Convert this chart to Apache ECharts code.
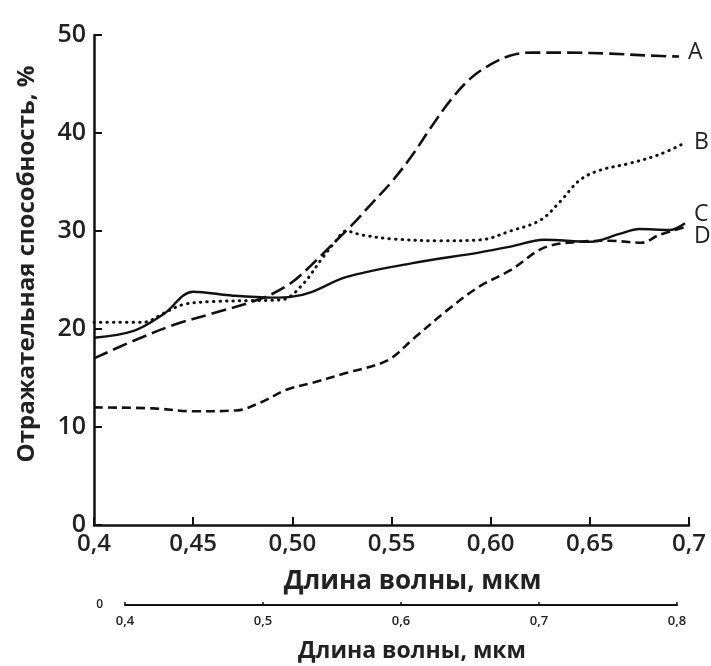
<!DOCTYPE html>
<html><head><meta charset="utf-8">
<script src="https://cdn.jsdelivr.net/npm/echarts@6/dist/echarts.min.js"></script>
<style>html,body{margin:0;padding:0;background:#fff}#c{width:711px;height:666px}</style>
</head><body><div id="c"></div>
<script>
// Wavelength (µm) and reflectance (%) for each curve
const xA = [0.40,0.42,0.44,0.46,0.48,0.49,0.50,0.51,0.52,0.53,0.54,0.55,0.56,0.57,0.58,0.59,0.60,0.61,0.62,0.64,0.66,0.68,0.695];
const yA = [17.0,18.8,20.4,21.6,22.8,23.6,24.8,26.6,28.6,30.6,32.8,35.0,37.6,40.6,43.4,45.6,47.0,47.9,48.2,48.2,48.1,47.9,47.8];
const xB = [0.40,0.425,0.435,0.445,0.46,0.48,0.495,0.505,0.515,0.522,0.527,0.535,0.55,0.575,0.595,0.61,0.625,0.635,0.645,0.655,0.67,0.685,0.698];
const yB = [20.7,20.7,21.6,22.5,22.8,22.9,23.0,24.5,27.2,29.0,30.0,29.6,29.2,29.0,29.1,30.0,31.1,33.0,35.2,36.2,36.9,37.8,39.0];
const xC = [0.40,0.42,0.435,0.45,0.47,0.49,0.50,0.51,0.527,0.56,0.594,0.61,0.627,0.65,0.665,0.675,0.69,0.698];
const yC = [19.1,19.8,21.5,23.8,23.4,23.2,23.3,23.8,25.3,26.7,27.8,28.4,29.1,28.9,29.7,30.2,30.1,30.8];
const xD = [0.40,0.43,0.45,0.472,0.484,0.497,0.51,0.527,0.548,0.561,0.578,0.594,0.61,0.627,0.645,0.66,0.676,0.685,0.698];
const yD = [12.0,11.9,11.6,11.7,12.5,13.8,14.5,15.5,16.8,19.0,21.9,24.3,26.0,28.3,28.9,29.0,28.8,29.6,30.4];
const seriesNames = ['A','B','C','D'];
const xTickLabels = ['0,4','0,45','0,50','0,55','0,60','0,65','0,7'];
const x2TickLabels = ['0,4','0,5','0,6','0,7','0,8'];
const xTitle = 'Длина волны, мкм';
const yTitle = 'Отражательная способность, %';

const pair = (xs, ys) => xs.map((x, i) => [x, ys[i]]);
const FONT = '"Open Sans", "DejaVu Sans", sans-serif';
const INK = '#111';

const chart = echarts.init(document.getElementById('c'), null, {renderer: 'canvas'});

function mkSeries(name, data, lineType, width, cap, labelOffset) {
  return {
    name: name, type: 'line', xAxisIndex: 0, yAxisIndex: 0,
    data: data, smooth: 0.35, showSymbol: false, symbol: 'none',
    lineStyle: {color: INK, width: width, type: lineType, cap: cap},
    endLabel: {show: true, formatter: '{a}', color: '#222', fontFamily: FONT,
      fontSize: 23, distance: 9, offset: labelOffset},
    emphasis: {disabled: true}, animation: false
  };
}

chart.setOption({
  animation: false,
  backgroundColor: '#fff',
  grid: [
    {left: 94, right: 22, top: 35, bottom: 141},
    {left: 125, right: 34, top: 595, bottom: 61}
  ],
  xAxis: [
    {type: 'value', gridIndex: 0, min: 0.4, max: 0.7, interval: 0.05,
     axisLine: {show: true, lineStyle: {color: INK, width: 2.5}},
     axisTick: {show: true, inside: true, length: 8, lineStyle: {color: INK, width: 2}},
     splitLine: {show: false},
     axisLabel: {color: '#222', fontFamily: FONT, fontSize: 24, fontWeight: 600, margin: 7,
       formatter: v => { const k = Math.round((v - 0.4) / 0.05); return Math.abs(v - (0.4 + k*0.05)) < 1e-6 ? xTickLabels[k] : ''; }},
     name: xTitle, nameLocation: 'middle', nameGap: 44,
     nameTextStyle: {color: '#222', fontFamily: FONT, fontSize: 26, fontWeight: 'bold', padding: [0, 0, 0, 42]}
    },
    {type: 'value', gridIndex: 1, min: 0.4, max: 0.8, interval: 0.1,
     axisLine: {show: true, onZero: false, lineStyle: {color: INK, width: 2}},
     axisTick: {show: true, inside: true, length: 3, lineStyle: {color: INK, width: 1.5}},
     splitLine: {show: false},
     axisLabel: {color: '#222', fontFamily: FONT, fontSize: 13, fontWeight: 600, margin: 10,
       formatter: v => { const k = Math.round((v - 0.4) / 0.1); return Math.abs(v - (0.4 + k*0.1)) < 1e-6 ? x2TickLabels[k] : ''; }},
     name: xTitle, nameLocation: 'middle', nameGap: 35,
     nameTextStyle: {color: '#222', fontFamily: FONT, fontSize: 23, fontWeight: 'bold', padding: [0, 0, 0, 22]}
    }
  ],
  yAxis: [
    {type: 'value', gridIndex: 0, min: 0, max: 50, interval: 10,
     axisLine: {show: true, lineStyle: {color: INK, width: 2.5}},
     axisTick: {show: true, inside: true, length: 8, lineStyle: {color: INK, width: 2}},
     splitLine: {show: false},
     axisLabel: {color: '#222', fontFamily: FONT, fontSize: 25, fontWeight: 600, margin: 8},
     name: yTitle, nameLocation: 'middle', nameGap: 55, nameRotate: 90,
     nameTextStyle: {color: '#222', fontFamily: FONT, fontSize: 24, fontWeight: 'bold', padding: [0, 0, 0, 32]}
    },
    {type: 'value', gridIndex: 1, min: 0, max: 1, interval: 1,
     axisLine: {show: false}, axisTick: {show: false}, splitLine: {show: false},
     axisLabel: {color: '#222', fontFamily: FONT, fontSize: 12, fontWeight: 600, margin: 22,
       formatter: v => v === 0 ? '0' : ''}
    }
  ],
  series: [
    mkSeries(seriesNames[0], pair(xA, yA), [15, 6], 2.6, 'butt', [0, -4]),
    mkSeries(seriesNames[1], pair(xB, yB), [0.5, 6], 3, 'round', [0, 0]),
    mkSeries(seriesNames[2], pair(xC, yC), 'solid', 2.4, 'butt', [0, -9]),
    mkSeries(seriesNames[3], pair(xD, yD), [9, 5], 2.6, 'butt', [0, 9])
  ]
});
</script></body></html>
